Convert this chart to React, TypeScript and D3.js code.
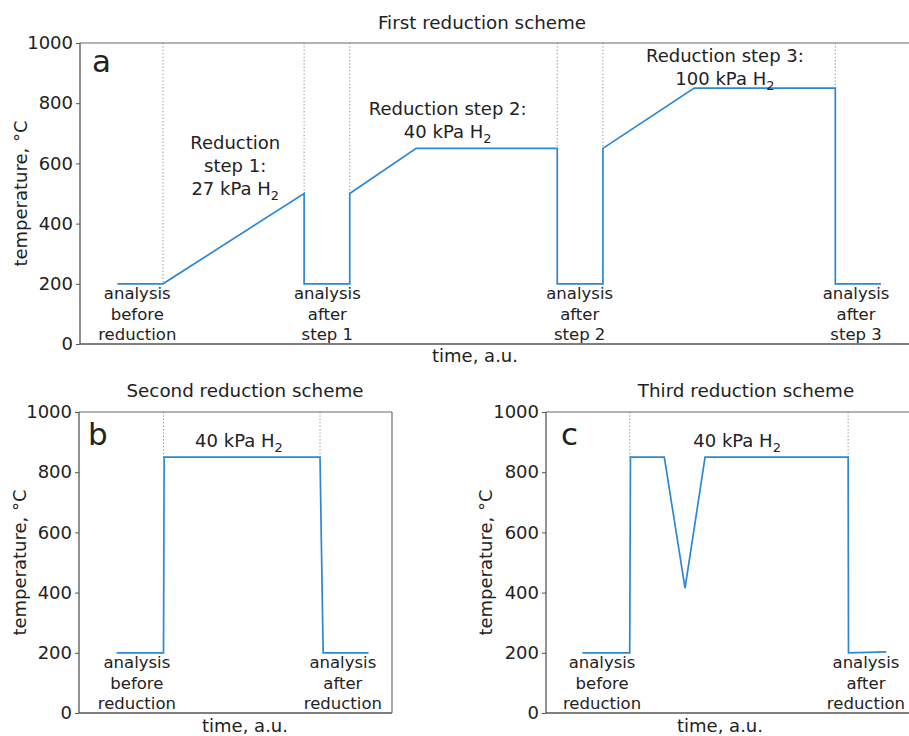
import React, { useEffect, useRef } from "react";
import * as d3 from "d3";

const tempTicks = [0, 200, 400, 600, 800, 1000];

// first reduction scheme
const timeA = [4.5, 10, 27, 27, 32.5, 32.5, 40.5, 57.5, 57.5, 63, 63, 74, 91, 91, 96.5];
const tempA = [200, 200, 500, 200, 200, 500, 650, 650, 200, 200, 650, 850, 850, 200, 200];
const markTimeA = [10, 27, 32.5, 57.5, 63, 91];
const markTempA = [200, 500, 500, 650, 650, 850];

// second reduction scheme
const timeB = [1.2, 2.7, 2.72, 7.7, 7.8, 9.25];
const tempB = [200, 200, 850, 850, 200, 200];
const markTimeB = [2.7, 7.7];
const markTempB = [850, 850];

// third reduction scheme
const timeC = [1.0, 2.3, 2.32, 3.25, 3.82, 4.37, 8.3, 8.31, 9.35];
const tempC = [200, 200, 850, 850, 415, 850, 850, 200, 203];
const markTimeC = [2.3, 8.3];
const markTempC = [850, 850];

// annotations: lines of text, anchored at (time, temperature) of first baseline
const notesA = [
  { t: 6.9, T: 150, lines: ["analysis", "before", "reduction"], small: true },
  { t: 29.8, T: 150, lines: ["analysis", "after", "step 1"], small: true },
  { t: 60.2, T: 150, lines: ["analysis", "after", "step 2"], small: true },
  { t: 93.5, T: 150, lines: ["analysis", "after", "step 3"], small: true },
  { t: 18.7, T: 648, lines: ["Reduction", "step 1:", "27 kPa H_2"], small: false },
  { t: 44.3, T: 761, lines: ["Reduction step 2:", "40 kPa H_2"], small: false },
  { t: 77.7, T: 937, lines: ["Reduction step 3:", "100 kPa H_2"], small: false },
];
const notesB = [
  { t: 1.85, T: 150, lines: ["analysis", "before", "reduction"], small: true },
  { t: 8.43, T: 150, lines: ["analysis", "after", "reduction"], small: true },
  { t: 5.11, T: 884, lines: ["40 kPa H_2"], small: false },
];
const notesC = [
  { t: 1.54, T: 150, lines: ["analysis", "before", "reduction"], small: true },
  { t: 8.79, T: 150, lines: ["analysis", "after", "reduction"], small: true },
  { t: 5.25, T: 884, lines: ["40 kPa H_2"], small: false },
];

const FONT = "'DejaVu Sans', Verdana, sans-serif";
const LINE = "#2e87d3";

function drawPanel(svg, cfg) {
  const g = svg.append("g");
  const x = d3.scaleLinear().domain(cfg.xDomain).range([cfg.left, cfg.right]);
  const y = d3.scaleLinear().domain([0, 1000]).range([cfg.bottom, cfg.top]);

  // frame
  g.append("line").attr("x1", cfg.left).attr("x2", cfg.right)
    .attr("y1", cfg.top).attr("y2", cfg.top).attr("stroke", "#9a9a9a").attr("stroke-width", 1.3);
  g.append("line").attr("x1", cfg.left).attr("x2", cfg.right)
    .attr("y1", cfg.bottom).attr("y2", cfg.bottom).attr("stroke", "#555").attr("stroke-width", 1.3);
  g.append("line").attr("x1", cfg.left).attr("x2", cfg.left)
    .attr("y1", cfg.top).attr("y2", cfg.bottom).attr("stroke", "#555").attr("stroke-width", 1.3);
  g.append("line").attr("x1", cfg.right).attr("x2", cfg.right)
    .attr("y1", cfg.top).attr("y2", cfg.bottom).attr("stroke", "#777").attr("stroke-width", 1.3);

  const yAxis = g.append("g")
    .attr("transform", `translate(${cfg.left},0)`)
    .call(d3.axisLeft(y).tickValues(tempTicks).tickSize(4).tickPadding(3).tickFormat(d3.format("d")));
  yAxis.select(".domain").remove();
  yAxis.selectAll("line").attr("stroke", "#555");
  yAxis.selectAll("text").attr("font-family", FONT).attr("font-size", 18).attr("fill", "#222");

  // dotted markers from top down to the curve
  g.selectAll(".mark")
    .data(cfg.markTime.map((t, i) => [t, cfg.markTemp[i]]))
    .join("line")
    .attr("x1", (d) => x(d[0])).attr("x2", (d) => x(d[0]))
    .attr("y1", y(1000)).attr("y2", (d) => y(d[1]))
    .attr("stroke", "#888").attr("stroke-width", 1).attr("stroke-dasharray", "1.2,2.2");

  const line = d3.line().x((d) => x(d[0])).y((d) => y(d[1]));
  g.append("path")
    .datum(cfg.time.map((t, i) => [t, cfg.temp[i]]))
    .attr("d", line)
    .attr("fill", "none").attr("stroke", LINE).attr("stroke-width", 1.7);

  // annotations
  cfg.notes.forEach((n) => {
    const size = n.small ? 16.5 : 18;
    const lh = n.small ? 20.7 : 23;
    n.lines.forEach((s, i) => {
      const txt = g.append("text")
        .attr("x", x(n.t)).attr("y", y(n.T) + i * lh)
        .attr("text-anchor", "middle")
        .attr("font-family", FONT).attr("font-size", size).attr("fill", "#222");
      const parts = s.split("_");
      txt.append("tspan").text(parts[0]);
      if (parts[1]) {
        txt.append("tspan").attr("font-size", size * 0.72).attr("dy", 5).text(parts[1]);
      }
    });
  });

  g.append("text").attr("x", cfg.titleX).attr("y", cfg.titleY)
    .attr("text-anchor", "middle").attr("font-family", FONT).attr("font-size", 18.3).attr("fill", "#222")
    .text(cfg.title);
  g.append("text").attr("x", cfg.xlabelX).attr("y", cfg.xlabelY)
    .attr("text-anchor", "middle").attr("font-family", FONT).attr("font-size", 18).attr("fill", "#222")
    .text("time, a.u.");
  g.append("text")
    .attr("transform", `translate(${cfg.ylabelX},${(cfg.top + cfg.bottom) / 2}) rotate(-90)`)
    .attr("text-anchor", "middle").attr("font-family", FONT).attr("font-size", 18).attr("fill", "#222")
    .text("temperature, °C");
  g.append("text").attr("x", cfg.letterX).attr("y", cfg.letterY)
    .attr("font-family", FONT).attr("font-size", 31).attr("fill", "#222")
    .text(cfg.letter);
}

export default function App() {
  const ref = useRef(null);

  useEffect(() => {
    const svg = d3.select(ref.current);
    svg.selectAll("*").remove();

    drawPanel(svg, {
      left: 80, right: 910, top: 43, bottom: 344, xDomain: [0, 100],
      time: timeA, temp: tempA, markTime: markTimeA, markTemp: markTempA, notes: notesA,
      title: "First reduction scheme", titleX: 482, titleY: 29,
      xlabelX: 475, xlabelY: 362, ylabelX: 27, letter: "a", letterX: 92, letterY: 72,
    });
    drawPanel(svg, {
      left: 79, right: 392, top: 412, bottom: 713, xDomain: [0, 10],
      time: timeB, temp: tempB, markTime: markTimeB, markTemp: markTempB, notes: notesB,
      title: "Second reduction scheme", titleX: 245, titleY: 397,
      xlabelX: 245, xlabelY: 732, ylabelX: 26, letter: "b", letterX: 88, letterY: 445,
    });
    drawPanel(svg, {
      left: 546, right: 910, top: 412, bottom: 713, xDomain: [0, 10],
      time: timeC, temp: tempC, markTime: markTimeC, markTemp: markTempC, notes: notesC,
      title: "Third reduction scheme", titleX: 746, titleY: 397,
      xlabelX: 720, xlabelY: 732, ylabelX: 492, letter: "c", letterX: 561, letterY: 445,
    });
  }, []);

  return (
    <svg
      ref={ref}
      width={909}
      height={736}
      style={{ position: "absolute", left: 0, top: 0, background: "#fff" }}
    />
  );
}
